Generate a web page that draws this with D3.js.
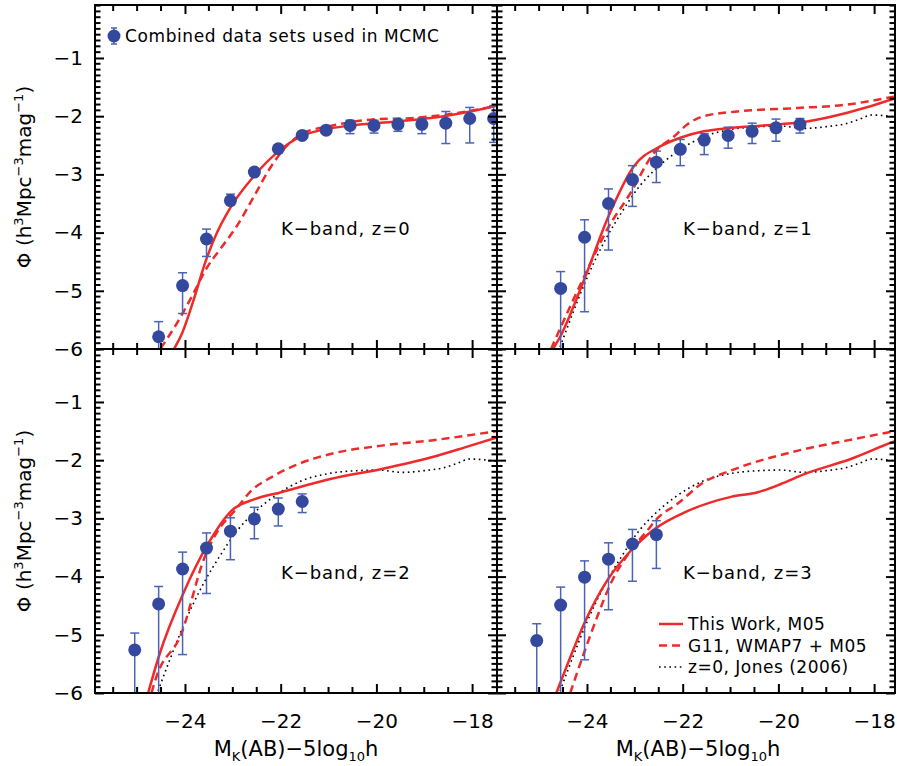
<!DOCTYPE html>
<html>
<head>
<meta charset="utf-8">
<script src="https://cdn.jsdelivr.net/npm/d3@7/dist/d3.min.js"></script>
<style>
  body { margin: 0; background: #fff; }
  svg text { font-family: "DejaVu Sans", sans-serif; fill: #000; }
</style>
</head>
<body>
<div id="graphic"></div>
<script>
// K-band luminosity functions at z = 0,1,2,3

// observed points: magnitude bins, phi, upper and lower ends of the error bars
const magZ0 = [-24.55, -24.05, -23.55, -23.05, -22.55, -22.05, -21.55, -21.05, -20.55, -20.05, -19.55, -19.05, -18.55, -18.05, -17.55];
const phiZ0 = [-5.79, -4.91, -4.11, -3.45, -2.96, -2.56, -2.33, -2.24, -2.16, -2.16, -2.14, -2.14, -2.12, -2.04, -2.04];
const hiZ0  = [-5.53, -4.69, -3.94, -3.34, -2.92, -2.53, -2.30, -2.20, -2.07, -2.07, -2.05, -2.03, -1.92, -1.85, -1.82];
const loZ0  = [-6.50, -5.39, -4.41, -3.50, -3.00, -2.59, -2.36, -2.28, -2.30, -2.29, -2.26, -2.30, -2.47, -2.46, -2.45];

const magZ1 = [-24.55, -24.05, -23.55, -23.05, -22.55, -22.05, -21.55, -21.05, -20.55, -20.05, -19.55];
const phiZ1 = [-4.96, -4.08, -3.50, -3.09, -2.79, -2.57, -2.41, -2.33, -2.26, -2.20, -2.14];
const hiZ1  = [-4.67, -3.78, -3.25, -2.85, -2.60, -2.40, -2.30, -2.19, -2.12, -2.05, -2.04];
const loZ1  = [-6.50, -5.36, -4.30, -3.55, -3.14, -2.85, -2.66, -2.55, -2.47, -2.43, -2.29];

const magZ2 = [-25.05, -24.55, -24.05, -23.55, -23.05, -22.55, -22.05, -21.55];
const phiZ2 = [-5.26, -4.47, -3.87, -3.51, -3.22, -3.01, -2.84, -2.71];
const hiZ2  = [-4.97, -4.17, -3.58, -3.25, -2.99, -2.81, -2.65, -2.58];
const loZ2  = [-6.50, -6.50, -5.34, -4.29, -3.71, -3.35, -3.13, -2.90];

const magZ3 = [-25.05, -24.55, -24.05, -23.55, -23.05, -22.55];
const phiZ3 = [-5.10, -4.49, -4.01, -3.70, -3.44, -3.28];
const hiZ3  = [-4.81, -4.18, -3.73, -3.42, -3.19, -3.04];
const loZ3  = [-6.50, -6.50, -5.43, -4.57, -4.08, -3.86];

// model curves [mag, phi]
const thisWorkZ0 = [[-24.23, -6.0], [-24.06, -5.73], [-23.82, -5.16], [-23.58, -4.52], [-23.33, -4.00], [-23.05, -3.57], [-22.56, -3.03], [-22.04, -2.60], [-21.59, -2.35], [-21.10, -2.23], [-20.54, -2.16], [-19.57, -2.09], [-18.59, -2.00], [-18.04, -1.92], [-17.48, -1.82]];
const g11Z0 = [[-24.51, -5.99], [-24.17, -5.56], [-23.82, -5.04], [-23.54, -4.60], [-23.26, -4.28], [-22.91, -3.88], [-22.56, -3.38], [-22.22, -2.89], [-21.94, -2.57], [-21.52, -2.29], [-20.96, -2.17], [-20.13, -2.06], [-19.22, -2.03], [-18.52, -1.97], [-17.48, -1.82]];

const thisWorkZ1 = [[-24.71, -6.0], [-24.56, -5.79], [-24.06, -4.81], [-23.55, -3.72], [-23.02, -2.86], [-22.47, -2.52], [-22.05, -2.37], [-21.56, -2.26], [-21.00, -2.20], [-19.96, -2.14], [-19.40, -2.09], [-18.56, -1.94], [-17.55, -1.69], [-17.48, -1.67]];
const g11Z1 = [[-24.75, -6.0], [-24.48, -5.50], [-24.06, -4.76], [-23.58, -3.95], [-23.09, -3.32], [-22.60, -2.63], [-22.18, -2.35], [-21.90, -2.14], [-21.56, -2.00], [-20.86, -1.92], [-19.61, -1.86], [-18.56, -1.80], [-17.55, -1.66], [-17.48, -1.65]];

const thisWorkZ2 = [[-24.77, -6.0], [-24.53, -5.33], [-24.04, -4.30], [-23.52, -3.44], [-23.03, -2.87], [-22.54, -2.67], [-21.99, -2.55], [-20.94, -2.32], [-19.89, -2.15], [-18.85, -1.95], [-18.15, -1.78], [-17.48, -1.61]];
const g11Z2 = [[-24.70, -6.0], [-24.60, -5.73], [-24.08, -4.99], [-23.59, -3.67], [-23.31, -3.21], [-22.96, -2.87], [-22.61, -2.52], [-22.19, -2.29], [-21.64, -2.07], [-20.94, -1.89], [-19.89, -1.75], [-18.85, -1.66], [-17.48, -1.50]];

const thisWorkZ3 = [[-24.64, -6.0], [-24.38, -5.45], [-24.06, -4.81], [-23.58, -4.07], [-23.09, -3.56], [-22.53, -3.15], [-21.97, -2.90], [-20.99, -2.63], [-20.43, -2.55], [-19.95, -2.41], [-19.46, -2.24], [-18.49, -1.98], [-17.55, -1.67], [-17.48, -1.65]];
const g11Z3 = [[-24.35, -6.0], [-24.07, -5.33], [-23.79, -4.70], [-23.51, -4.13], [-23.09, -3.56], [-22.74, -3.21], [-22.53, -3.00], [-22.11, -2.75], [-21.56, -2.38], [-21.00, -2.18], [-19.61, -1.84], [-18.56, -1.66], [-17.55, -1.50], [-17.48, -1.49]];

// z=0 Jones (2006), shown in the z>0 panels
const jones06 = [[-24.6, -6.05], [-24.35, -5.5], [-24.0, -4.78], [-23.6, -4.1], [-23.25, -3.62], [-22.9, -3.2], [-22.55, -2.9], [-22.15, -2.63], [-21.55, -2.35], [-21.0, -2.23], [-20.4, -2.18], [-19.95, -2.17], [-19.45, -2.21], [-19.0, -2.18], [-18.6, -2.13], [-18.3, -2.05], [-18.05, -1.98], [-17.5, -2.02]];

const panelLabels = ['K\u2212band, z=0', 'K\u2212band, z=1', 'K\u2212band, z=2', 'K\u2212band, z=3'];
const xMajorTicks = [-24, -22, -20, -18];
const yMajorTicks = [-1, -2, -3, -4, -5, -6];
const legendLabels = ['This Work, M05', 'G11, WMAP7 + M05', 'z=0, Jones (2006)'];
const pointsLabel = 'Combined data sets used in MCMC';

(function () {
  var width = 897;
  var height = 766;

  var red = '#ee2a2a';
  var blue = '#34489e';
  var barBlue = '#4a63b6';

  var svg = d3.select('#graphic')
    .append('svg')
    .attr('width', width)
    .attr('height', height)

  // panel geometry
  var x0 = 95, y0 = 5;
  var colW = [402, 398];
  var rowH = 344;

  var xFull = d3.scaleLinear().domain([-25.88, -17.48]).range([0, 402]);
  var y = d3.scaleLinear().domain([-6, -0.09]).range([rowH, 0]);

  var panels = [
    { col: 0, row: 0, label: panelLabels[0], mag: magZ0, phi: phiZ0, hi: hiZ0, lo: loZ0, model: thisWorkZ0, g11: g11Z0, jones: false },
    { col: 1, row: 0, label: panelLabels[1], mag: magZ1, phi: phiZ1, hi: hiZ1, lo: loZ1, model: thisWorkZ1, g11: g11Z1, jones: true },
    { col: 0, row: 1, label: panelLabels[2], mag: magZ2, phi: phiZ2, hi: hiZ2, lo: loZ2, model: thisWorkZ2, g11: g11Z2, jones: true },
    { col: 1, row: 1, label: panelLabels[3], mag: magZ3, phi: phiZ3, hi: hiZ3, lo: loZ3, model: thisWorkZ3, g11: g11Z3, jones: true }
  ]

  var xMinor = d3.range(-51, -34, 1).map(d => d / 2).filter(d => xMajorTicks.indexOf(d) < 0);
  var yMinor = d3.range(-59, 0, 1).map(d => d / 10).filter(d => Math.abs(d % 1) > 0.01);

  // major ticks + labels through d3.axis, pointing into the panel
  function drawMajor(g, axisFn, scale, transform, showLabels, isX) {
    var major = axisFn(scale)
      .tickValues(isX ? xMajorTicks : yMajorTicks)
      .tickSize(-9)
      .tickPadding(isX ? 21 : 12)
      .tickFormat(showLabels ? d3.format('d') : () => '');
    var gMaj = g.append('g').attr('transform', transform).call(major);
    gMaj.select('.domain').remove();
    gMaj.selectAll('line').attr('stroke', '#000').attr('stroke-width', 2);
    gMaj.selectAll('text')
      .attr('font-family', '"DejaVu Sans", sans-serif')
      .attr('font-size', 20)
      .attr('fill', '#000');
  }

  panels.forEach((p, i) => {
    var w = colW[p.col];
    var px = x0 + (p.col === 0 ? 0 : colW[0]);
    var py = y0 + p.row * rowH;
    var x = d3.scaleLinear().domain([-25.88, xFull.invert(w)]).range([0, w]);

    var g = svg.append('g').attr('transform', 'translate(' + px + ',' + py + ')');

    g.append('clipPath').attr('id', 'clip' + i)
      .append('rect').attr('width', w).attr('height', rowH);

    var plot = g.append('g').attr('clip-path', 'url(#clip' + i + ')');

    var line = d3.line()
      .x(d => x(d[0]))
      .y(d => y(d[1]))
      .curve(d3.curveMonotoneX);

    if (p.jones) {
      plot.append('path').datum(jones06)
        .attr('d', line)
        .attr('fill', 'none')
        .attr('stroke', '#000')
        .attr('stroke-width', 1.6)
        .attr('stroke-dasharray', '1.6,3.6');
    }
    plot.append('path').datum(p.g11)
      .attr('d', line)
      .attr('fill', 'none')
      .attr('stroke', red)
      .attr('stroke-width', 2.5)
      .attr('stroke-dasharray', '8,5');
    plot.append('path').datum(p.model)
      .attr('d', line)
      .attr('fill', 'none')
      .attr('stroke', red)
      .attr('stroke-width', 2.5);

    // error bars + points
    var pts = p.mag.map((m, k) => ({ m: m, v: p.phi[k], hi: p.hi[k], lo: p.lo[k] }));
    var eb = plot.selectAll('.eb').data(pts).enter().append('g').attr('class', 'eb')
      .attr('stroke', barBlue).attr('stroke-width', 1.5);
    eb.append('line')
      .attr('x1', d => x(d.m)).attr('x2', d => x(d.m))
      .attr('y1', d => y(d.hi)).attr('y2', d => y(d.lo));
    eb.append('line')
      .attr('x1', d => x(d.m) - 4.5).attr('x2', d => x(d.m) + 4.5)
      .attr('y1', d => y(d.hi)).attr('y2', d => y(d.hi));
    eb.append('line')
      .attr('x1', d => x(d.m) - 4.5).attr('x2', d => x(d.m) + 4.5)
      .attr('y1', d => y(d.lo)).attr('y2', d => y(d.lo));
    plot.selectAll('.pt').data(pts).enter().append('circle')
      .attr('class', 'pt')
      .attr('cx', d => x(d.m))
      .attr('cy', d => y(d.v))
      .attr('r', 6.5)
      .attr('fill', blue);

    // minor ticks on all four sides
    var xMin = xMinor.filter(v => x(v) > 1 && x(v) < w - 1);
    var minorG = g.append('g').attr('stroke', '#000').attr('stroke-width', 2);
    minorG.selectAll('.mxb').data(xMin).enter().append('line')
      .attr('x1', d => x(d)).attr('x2', d => x(d))
      .attr('y1', rowH).attr('y2', rowH - 6);
    minorG.selectAll('.mxt').data(xMin).enter().append('line')
      .attr('x1', d => x(d)).attr('x2', d => x(d))
      .attr('y1', 0).attr('y2', 6);
    minorG.selectAll('.myl').data(yMinor).enter().append('line')
      .attr('x1', 0).attr('x2', 5.5)
      .attr('y1', d => y(d)).attr('y2', d => y(d));
    minorG.selectAll('.myr').data(yMinor).enter().append('line')
      .attr('x1', w).attr('x2', w - 5.5)
      .attr('y1', d => y(d)).attr('y2', d => y(d));

    drawMajor(g, d3.axisBottom, x, 'translate(0,' + rowH + ')', p.row === 1, true);
    drawMajor(g, d3.axisTop, x, null, false, true);
    drawMajor(g, d3.axisLeft, y, null, p.col === 0, false);
    drawMajor(g, d3.axisRight, y, 'translate(' + w + ',0)', false, false);

    g.append('rect')
      .attr('width', w).attr('height', rowH)
      .attr('fill', 'none')
      .attr('stroke', '#000')
      .attr('stroke-width', 2);

    g.append('text')
      .attr('x', 186)
      .attr('y', 230)
      .attr('font-size', 18)
      .attr('letter-spacing', 0.9)
      .text(p.label);

    // y title on left column, x title on bottom row
    if (p.col === 0) {
      var yt = g.append('text')
        .attr('transform', 'translate(-64,' + (rowH / 2) + ') rotate(-90)')
        .attr('text-anchor', 'middle')
        .attr('font-size', 20);
      yt.append('tspan').text('\u03A6 (h');
      yt.append('tspan').attr('dy', -8).attr('font-size', 13).text('3');
      yt.append('tspan').attr('dy', 8).text('Mpc');
      yt.append('tspan').attr('dy', -8).attr('font-size', 13).text('\u22123');
      yt.append('tspan').attr('dy', 8).text('mag');
      yt.append('tspan').attr('dy', -8).attr('font-size', 13).text('\u22121');
      yt.append('tspan').attr('dy', 8).text(')');
    }
    if (p.row === 1) {
      var xt = g.append('text')
        .attr('x', 201)
        .attr('y', rowH + 63)
        .attr('text-anchor', 'middle')
        .attr('font-size', 21);
      xt.append('tspan').text('M');
      xt.append('tspan').attr('dy', 5).attr('font-size', 13).text('K');
      xt.append('tspan').attr('dy', -5).text('(AB)\u22125log');
      xt.append('tspan').attr('dy', 5).attr('font-size', 13).text('10');
      xt.append('tspan').attr('dy', -5).text('h');
    }
  });

  // legend for points (top-left panel)
  var lp = svg.append('g').attr('transform', 'translate(114,36)');
  lp.append('line').attr('y1', -8).attr('y2', 8).attr('stroke', barBlue).attr('stroke-width', 1.5);
  lp.append('line').attr('x1', -3).attr('x2', 3).attr('y1', -8).attr('y2', -8).attr('stroke', barBlue).attr('stroke-width', 1.5);
  lp.append('line').attr('x1', -3).attr('x2', 3).attr('y1', 8).attr('y2', 8).attr('stroke', barBlue).attr('stroke-width', 1.5);
  lp.append('circle').attr('r', 6.5).attr('fill', blue);
  lp.append('text').attr('x', 11).attr('y', 6).attr('font-size', 17).attr('letter-spacing', 0.6).text(pointsLabel);

  // legend for lines (bottom-right panel)
  var styles = [
    { stroke: red, dash: null, w: 2.5 },
    { stroke: red, dash: '8,5', w: 2.5 },
    { stroke: '#000', dash: '1.6,3.6', w: 1.6 }
  ];
  var ll = svg.append('g').attr('transform', 'translate(659,624)');
  var rows = ll.selectAll('g').data(legendLabels).enter().append('g')
    .attr('transform', (d, i) => 'translate(0,' + (i * 21.5) + ')');
  rows.append('line')
    .attr('x1', 0).attr('x2', 24)
    .attr('stroke', (d, i) => styles[i].stroke)
    .attr('stroke-width', (d, i) => styles[i].w)
    .attr('stroke-dasharray', (d, i) => styles[i].dash);
  rows.append('text')
    .attr('x', 29).attr('y', 6)
    .attr('font-size', 17)
    .attr('letter-spacing', 0.5)
    .text(d => d);
})()
</script>
</body>
</html>
